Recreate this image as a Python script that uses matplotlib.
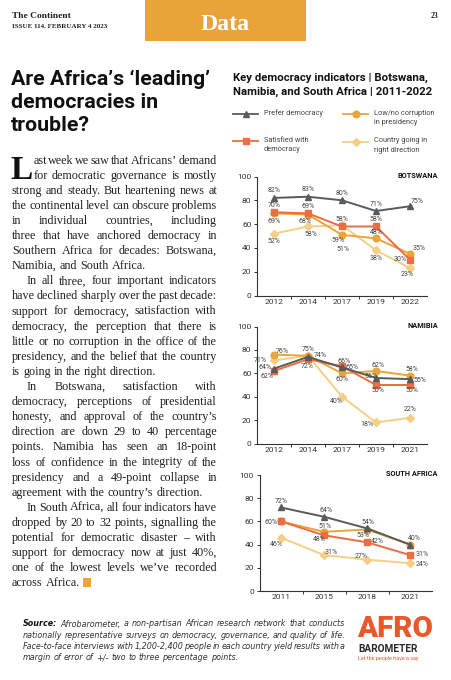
import matplotlib
matplotlib.use("Agg")
import matplotlib.pyplot as plt
from matplotlib.patches import Rectangle

W, H = 451, 680
SANS = ["Roboto", "DejaVu Sans"]
SERIF = ["Liberation Serif", "DejaVu Serif"]
plt.rcParams["font.family"] = SANS

# ---- chart data (percent) ----
bw_years = ["2012", "2014", "2017", "2019", "2022"]
bw_prefer = [82, 83, 80, 71, 75]
bw_satisfied = [70, 69, 58, 58, 30]
bw_corruption = [69, 68, 51, 48, 35]
bw_direction = [52, 58, 59, 38, 23]

na_years = ["2012", "2014", "2017", "2019", "2021"]
na_prefer = [64, 74, 65, 56, 55]
na_satisfied = [62, 72, 66, 50, 50]
na_corruption = [76, 75, 60, 62, 58]
na_direction = [71, 75, 40, 18, 22]

sa_years = ["2011", "2015", "2018", "2021"]
sa_prefer = [72, 64, 54, 40]
sa_satisfied = [60, 48, 42, 31]
sa_corruption = [60, 51, 53, 40]
sa_direction = [46, 31, 27, 24]

legend_labels = {
    "prefer": "Prefer democracy",
    "corruption": "Low/no corruption\nin presidency",
    "satisfied": "Satisfied with\ndemocracy",
    "direction": "Country going in\nright direction",
}

# ---- article text ----
title_lines = ["Are Africa\u2019s \u2018leading\u2019", "democracies in", "trouble?"]
paragraphs = [
    ["ast week we saw that Africans\u2019 demand",
     "for democratic governance is mostly",
     "strong and steady. But heartening news at",
     "the continental level can obscure problems",
     "in individual countries, including",
     "three that have anchored democracy in",
     "Southern Africa for decades: Botswana,",
     "Namibia, and South Africa."],
    ["In all three, four important indicators",
     "have declined sharply over the past decade:",
     "support for democracy, satisfaction with",
     "democracy, the perception that there is",
     "little or no corruption in the office of the",
     "presidency, and the belief that the country",
     "is going in the right direction."],
    ["In Botswana, satisfaction with",
     "democracy, perceptions of presidential",
     "honesty, and approval of the country\u2019s",
     "direction are down 29 to 40 percentage",
     "points. Namibia has seen an 18-point",
     "loss of confidence in the integrity of the",
     "presidency and a 49-point collapse in",
     "agreement with the country\u2019s direction."],
    ["In South Africa, all four indicators have",
     "dropped by 20 to 32 points, signalling the",
     "potential for democratic disaster \u2013 with",
     "support for democracy now at just 40%,",
     "one of the lowest levels we\u2019ve recorded",
     "across Africa."],
]
source_lines = [
    "Source: Afrobarometer, a non-partisan African research network that conducts",
    "nationally representative surveys on democracy, governance, and quality of life.",
    "Face-to-face interviews with 1,200-2,400 people in each country yield results with a",
    "margin of error of +/- two to three percentage points.",
]

# ---- styles ----
styles = {
    "direction": dict(color="#f5cf86", marker="D", ms=4.0, z=2),
    "corruption": dict(color="#e9a43a", marker="o", ms=4.8, z=3),
    "satisfied": dict(color="#ea6d43", marker="s", ms=4.6, z=4),
    "prefer": dict(color="#5a5a5a", marker="^", ms=5.0, z=5),
}
ORANGE = "#e9a33b"
TEXT = "#231f20"

# label offsets in pixels (dx, dy); None = no label
bw_offsets = {
    "prefer": [(0, 7), (0, 7), (0, 7), (0, 7), (7, 5)],
    "satisfied": [(0, 7), (0, 7), (0, 7), (0, 7), (-10, 0)],
    "corruption": [(0, -8), (-3, -7), (1, -15), (0, 6), (9, 5)],
    "direction": [(0, -8), (3, -8), (-4, -15), (0, -8), (-3, -6)],
}
na_offsets = {
    "prefer": [(-9, 1), (12, 1), (10, 0), (-5, 1), (10, -1)],
    "satisfied": [(-7, -6), (-1, -7), (2, 5), (2, -6), (2, -6)],
    "corruption": [(8, 3), (0, 6), (0, -6), (2, 5), (2, 6)],
    "direction": [(-14, 0), None, (-6, -5), (-9, -2), (0, 8)],
}
sa_offsets = {
    "prefer": [(0, 6), (2, 6), (1, 6), (4, 6)],
    "satisfied": [(-10, -1), (-5, -4), (10, 1), (12, 1)],
    "corruption": [None, (1, 5), (-4, -6), None],
    "direction": [(-5, -7), (7, 3), (-6, 3), (12, -1)],
}

fig = plt.figure(figsize=(W / 100, H / 100), dpi=100)
fig.patch.set_facecolor("white")
page = fig.add_axes([0, 0, 1, 1])
page.set_xlim(0, W)
page.set_ylim(H, 0)
page.axis("off")
renderer = fig.canvas.get_renderer()


def text_width(s, **kw):
    t = page.text(0, 0, s, **kw)
    w = t.get_window_extent(renderer).width
    t.remove()
    return w


def fit_size(s, width, **kw):
    return 10 * width / text_width(s, fontsize=10, **kw)


def tight_size(line, width, min_gap, **kw):
    # size at which the words of a line fill the width with min_gap between them
    words = line.split(" ")
    total = sum(text_width(w, fontsize=10, **kw) for w in words)
    return 10 * (width - min_gap * (len(words) - 1)) / total


def set_words(words, x0, x1, y, justify=True):
    widths = [text_width(w, **st) for w, st in words]
    st0 = words[-1][1]
    space = text_width("a a", **st0) - text_width("aa", **st0)
    gap = (x1 - x0 - sum(widths)) / (len(words) - 1) if justify and len(words) > 1 else space
    x = x0
    for (w, st), wd in zip(words, widths):
        page.text(x, y, w, va="baseline", **st)
        x += wd + gap
    return x - gap


# ---- header ----
page.add_patch(Rectangle((145, 0), 161, 41, color=ORANGE, lw=0))
page.text(225.5, 30, "Data", ha="center", va="baseline", color="white",
          family=SERIF, weight="bold", fontsize=fit_size("Data", 49, family=SERIF, weight="bold"))
page.text(12, 18.5, "The Continent", va="baseline", color=TEXT, family=SERIF, weight="bold",
          fontsize=fit_size("The Continent", 59, family=SERIF, weight="bold"))
page.text(12, 28.5, "ISSUE 114. FEBRUARY 4 2023", va="baseline", color=TEXT, family=SERIF, weight="bold",
          fontsize=fit_size("ISSUE 114. FEBRUARY 4 2023", 95, family=SERIF, weight="bold"))
page.text(438, 17.5, "23", ha="right", va="baseline", color=TEXT, family=SERIF, weight="bold", fontsize=5.5)

# ---- headline ----
tsize = fit_size(title_lines[0], 200, weight="bold")
for i, line in enumerate(title_lines):
    page.text(11, 85 + i * 23, line, va="baseline", weight="bold", fontsize=tsize, color="#111111")

# ---- body ----
x0, x1 = 12, 217
base0, step = 163.5, 15.1
drop = page.text(10, base0 + step, "L", va="baseline", family=SERIF, weight="bold",
                 fontsize=24, color="#111111")
drop_w = drop.get_window_extent(renderer).width


def line_start(p, j):
    if p == 0 and j < 2:
        return 10 + drop_w + 1
    if p > 0 and j == 0:
        return x0 + 15
    return x0


# largest size where every justified line still fits with narrow spaces
bsize = min(tight_size(line, x1 - line_start(p, j), 1.6, family=SERIF)
            for p, lines in enumerate(paragraphs)
            for j, line in enumerate(lines) if j < len(lines) - 1)
body = dict(family=SERIF, fontsize=bsize, color=TEXT)
row = 0
end_x = x0
for p, lines in enumerate(paragraphs):
    for j, line in enumerate(lines):
        last = j == len(lines) - 1
        words = [(w, body) for w in line.split(" ")]
        end_x = set_words(words, line_start(p, j), x1, base0 + row * step, justify=not last)
        row += 1
page.add_patch(Rectangle((end_x + 3, base0 + (row - 1) * step - 8), 8.5, 8.5, color="#f0a532", lw=0))

# ---- chart title + legend ----
ctitle = ["Key democracy indicators | Botswana,", "Namibia, and South Africa | 2011-2022"]
csize = fit_size(ctitle[0], 195, weight="bold")
for i, line in enumerate(ctitle):
    page.text(233, 80.5 + i * 14.5, line, va="baseline", weight="bold", fontsize=csize, color="#111111")

lsize = fit_size("Low/no corruption", 61)
legend_pos = {"prefer": (233, 114), "corruption": (343, 114),
              "satisfied": (233, 141), "direction": (343, 141.5)}
for key, (lx, ly) in legend_pos.items():
    st = styles[key]
    page.plot([lx, lx + 25], [ly, ly], color=st["color"], lw=1.3)
    page.plot([lx + 12.5], [ly], marker=st["marker"], ms=st["ms"], color=st["color"], lw=0)
    page.text(lx + 31, ly - 4.3, legend_labels[key], va="top", fontsize=lsize,
              color="#444444", linespacing=1.5)


# ---- charts ----
def draw_country(box, years, data, offsets, name):
    l, r, t, b = box
    ax = fig.add_axes([l / W, 1 - b / H, (r - l) / W, (b - t) / H])
    ax.patch.set_alpha(0)
    xs = list(range(len(years)))
    for key in ["direction", "corruption", "satisfied", "prefer"]:
        st = styles[key]
        vals = data[key]
        ax.plot(xs, vals, color=st["color"], lw=1.4, marker=st["marker"], ms=st["ms"],
                zorder=st["z"], clip_on=False)
        for i, v in enumerate(vals):
            off = offsets[key][i]
            if off is None:
                continue
            ax.annotate(f"{v}%", (i, v), xytext=off, textcoords="offset pixels",
                        ha="center", va="center", fontsize=5, color="#444444", zorder=10)
    ax.set_xlim(-0.5, len(years) - 0.5)
    ax.set_ylim(0, 100)
    ax.set_yticks(range(0, 101, 20))
    ax.set_xticks(xs)
    ax.set_xticklabels(years)
    ax.set_xticks([i + 0.5 for i in xs[:-1]], minor=True)
    ax.tick_params(axis="x", which="major", length=0, pad=2.5, labelsize=6, labelcolor="#333333")
    ax.tick_params(axis="x", which="minor", length=2.5, width=0.7, color="#333333")
    ax.tick_params(axis="y", length=2.5, width=0.7, pad=1.5, labelsize=6, color="#333333",
                   labelcolor="#333333")
    for s in ["top", "right"]:
        ax.spines[s].set_visible(False)
    for s in ["left", "bottom"]:
        ax.spines[s].set_color("#333333")
        ax.spines[s].set_linewidth(0.8)
    page.text(438, t - 1, name, ha="right", va="center", weight="bold", fontsize=5.3, color="#111111")
    return ax


draw_country((257, 427, 176.5, 295.5), bw_years,
             {"prefer": bw_prefer, "satisfied": bw_satisfied,
              "corruption": bw_corruption, "direction": bw_direction}, bw_offsets, "BOTSWANA")
draw_country((257, 427, 326.5, 443.5), na_years,
             {"prefer": na_prefer, "satisfied": na_satisfied,
              "corruption": na_corruption, "direction": na_direction}, na_offsets, "NAMIBIA")
draw_country((259.5, 431.5, 475, 591), sa_years,
             {"prefer": sa_prefer, "satisfied": sa_satisfied,
              "corruption": sa_corruption, "direction": sa_direction}, sa_offsets, "SOUTH AFRICA")

# ---- source note ----
SRC_FAMILY = ["DejaVu Sans"]
ssize = min(tight_size(line, 322, 1.3, family=SRC_FAMILY, style="italic")
            for line in source_lines[:-1])
src_it = dict(family=SRC_FAMILY, fontsize=ssize, style="italic", color="#333333")
src_bold = dict(family=SRC_FAMILY, fontsize=ssize, style="italic", weight="bold", color="#111111")
for i, line in enumerate(source_lines):
    words = [(w, src_it) for w in line.split(" ")]
    if i == 0:
        words[0] = (words[0][0], src_bold)
    set_words(words, 23, 345, 626.5 + i * 11.2, justify=i < len(source_lines) - 1)

# ---- logo ----
red = "#e8582b"
page.text(357, 637, "AFRO", va="baseline", weight="black", color=red,
          fontsize=fit_size("AFRO", 76, weight="black"))
page.text(358, 652, "BAROMETER", va="baseline", weight="bold", color="#2a2a2a",
          fontsize=fit_size("BAROMETER", 60, weight="bold"))
page.text(358, 660, "Let the people have a say", va="baseline", color=red,
          fontsize=fit_size("Let the people have a say", 60))

fig.savefig("out.png", dpi=100)
